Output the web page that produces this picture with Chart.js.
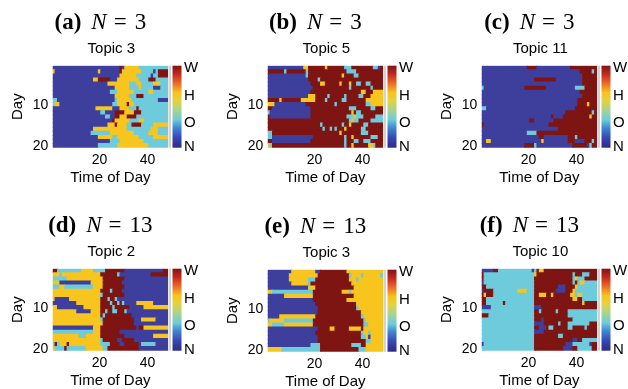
<!DOCTYPE html>
<html lang="en">
<head>
<meta charset="UTF-8">
<title>Topics by day and time of day</title>
<style>
  html, body { margin: 0; padding: 0; background: #fff; overflow: hidden; width: 628px; height: 389px; }
  canvas { position: absolute; }
</style>
</head>
<body>
<canvas id="pa" width="199" height="195" style="left:0px;top:0px"></canvas>
<canvas id="pb" width="199" height="195" style="left:214.6px;top:0px"></canvas>
<canvas id="pc" width="199" height="195" style="left:429px;top:0px"></canvas>
<canvas id="pd" width="199" height="195" style="left:0px;top:203.3px"></canvas>
<canvas id="pe" width="199" height="195" style="left:214.6px;top:203.6px"></canvas>
<canvas id="pf" width="199" height="195" style="left:429px;top:203.3px"></canvas>
<script src="https://cdn.jsdelivr.net/npm/chart.js"></script>
<script>
// 20 days x 48 half-hour slots, each row as runs: letter + run length
// N = nothing, O = other, H = home, W = work
const numDays = 20;
const numSlots = 48;
const xTicks = [20, 40];
const yTicks = [10, 20];
const levels = ['N', 'O', 'H', 'W'];
const levelColors = { N: '#3e3e9c', O: '#6ecbdc', H: '#f7c51d', W: '#7e1513' };

const panelTags = ['(a)', '(b)', '(c)', '(d)', '(e)', '(f)'];
const panelN = ['3', '3', '3', '13', '13', '13'];
const panelTopics = ['Topic 3', 'Topic 5', 'Topic 11', 'Topic 2', 'Topic 3', 'Topic 10'];

const rowsA = [
  "N28 W1 N1 H6 O12",
  "H1 N18 H1 N8 W1 H8 O5 N1 O1 W4",
  "N28 H7 O6 N1 O2 W4",
  "N17 H2 W5 N3 H9 O4 W3 O5",
  "N23 H9 O3 H2 O5 H3 O3",
  "N26 H6 O4 H1 O5 N3 O3",
  "N24 O3 H7 O6 H2 O6",
  "N26 H6 O3 W3 O10",
  "O2 N24 O1 H6 O11 N4",
  "O1 H2 N22 O2 H4 W1 H2 O14",
  "N18 H7 N3 H4 O3 W1 O12",
  "N20 O2 N4 W4 H4 W3 O11",
  "N22 O2 N2 W2 H3 W4 O13",
  "N25 W1 H6 O4 H2 O10",
  "N23 H3 W1 H4 O2 W4 O5 H6",
  "N17 H14 O10 H3 O4",
  "N16 O8 H10 O6 H4 O4",
  "N19 H6 O2 H9 O6 H6",
  "N24 O4 H10 O10",
  "N19 O8 H13 O8"
];

const rowsB = [
  "N15 H2 W7 H1 W7 O3 W9 O2 N1 W1",
  "W7 O1 W8 O1 W16 O4 W11",
  "N16 O1 W14 H1 W4 O2 W10",
  "N17 W4 O1 W26",
  "N18 W4 H2 W6 H1 W3 H1 W2 O2 W2 O2 W5",
  "N19 W15 O1 W8 O1 W4",
  "N18 W21 H2 W3 H4",
  "N17 H3 W5 O1 W6 O1 W5 O2 W3 H5",
  "W5 H1 W8 H6 W4 O1 W6 O2 W8 H7",
  "H3 N13 W12 O1 W12 O2 H5",
  "W2 N16 W16 O3 W6 O2 W3",
  "O1 N17 W17 H1 W1 O2 W9",
  "W1 N17 W15 O3 H1 O3 W5 O3",
  "W34 O1 H1 O2 W5 O5",
  "W22 O1 W8 O1 W2 H1 W5 O2 W6",
  "W23 O1 W2 O1 W1 O1 W3 H1 W6 O2 W7",
  "O2 W28 H1 W8 O3 W6",
  "O2 N17 W13 O1 W2 H1 W7 O3 W2",
  "W2 N16 W14 O1 W3 O2 W2 O3 W5",
  "H1 O1 W30 O1 W2 H1 W6 H2 O1 W3"
];

const rowsC = [
  "N19 W4 N14 W11",
  "N41 W5 O1 W1",
  "N42 W6",
  "N22 W9 N11 W6",
  "N42 W6",
  "O1 N17 W9 N12 O4 W5",
  "N41 W7",
  "N42 W6",
  "N40 W8",
  "N40 W4 H1 W3",
  "O2 N37 W9",
  "N35 W11 O1 W1",
  "N29 W1 N4 W11 H1 W2",
  "N20 W2 N8 W18",
  "W1 N27 W20",
  "N32 W16",
  "N19 O4 W25",
  "N24 W2 N10 W3 O1 W8",
  "N2 H2 N21 H1 N10 W3 N4 W3 O1 W1",
  "N18 W4 O1 N15 W6 N1 O1 W2"
];

const rowsD = [
  "W2 O10 H5 O5 W8 N16 W2",
  "H3 O1 H16 W7 O1 N13 W7",
  "O6 H15 W9 N18",
  "H3 N13 H5 W8 N19",
  "O3 H2 O12 H4 W9 N18",
  "H20 W4 O1 W4 N19",
  "H20 O1 W9 N18",
  "H1 N6 H13 W3 O1 W2 O1 N21",
  "N10 H10 W4 O1 W2 O1 W1 O1 N5 H7 N6",
  "H2 N11 H7 W5 O1 W6 N6 H10",
  "H10 N6 H4 W2 O1 W2 O2 W3 O1 N17",
  "H20 W1 O1 W11 N15",
  "H20 O1 W13 N3 H6 N5",
  "H21 W13 N14",
  "N17 H3 W15 N1 W2 H10",
  "O17 H3 W8 N20",
  "H11 O3 H6 W10 N12 H6",
  "H20 O1 W6 N2 W5 N14",
  "O1 W1 O1 H3 W1 H13 O4 W4 N2 W6 N1 O6 N5",
  "H1 O4 W1 O8 H7 O2 W13 N12"
];

const rowsE = [
  "N10 H10 N2 W11 H15",
  "N9 H12 W13 O1 H4 O1 H7 O1",
  "N9 H8 O3 W14 H3 O1 H10",
  "N10 H7 O1 W17 H13",
  "N17 H3 W16 H12",
  "H2 O17 W12 H3 O1 H13",
  "N7 H12 W17 H12",
  "N19 W14 H15",
  "N20 W17 H11",
  "N21 W16 O1 H10",
  "N21 W18 H9",
  "N5 H15 W19 O1 H8",
  "O1 H6 O12 W21 O1 H7",
  "H2 O5 H12 W21 O2 H6",
  "N21 W5 H2 W6 H5 W1 H8",
  "N20 W19 O1 H2 O1 H5",
  "N21 W18 O2 H1 N1 H5",
  "N21 W20 O2 H5",
  "N18 O4 W13 O4 W2 H7",
  "H6 O16 W16 O3 H7"
];

const rowsF = [
  "N5 W2 O14 N1 O1 W1 H2 W22",
  "W1 O21 H1 W15 O1 W3 O3 W3",
  "W1 O21 W16 O1 H1 O3 W5",
  "N1 O21 W16 O1 W1 O1 H2 O5",
  "W2 O20 W10 N3 W4 H1 O8",
  "N1 W4 O10 H4 O3 W9 N4 W3 H1 O9",
  "W1 H1 W3 O17 W2 H3 W2 H1 W7 H2 O1 H2 O6",
  "W2 O20 W16 H2 W2 O6",
  "W2 O7 W1 O12 W20 H1 W5",
  "N4 O18 N3 W23",
  "O22 W2 O1 W6 O1 W4 O12",
  "W3 O19 W14 O12",
  "O22 W3 N1 W12 O10",
  "O22 N4 W6 O1 W3 O9 W3",
  "O22 W2 N3 W1 O2 W6 O2 W5 O1 W4",
  "O22 N4 W22",
  "O22 W10 O2 W14",
  "O22 W16 N2 W2 O6",
  "N1 O21 W13 N3 O7 N1 W2",
  "O22 W12 N4 W2 O6 W2"
];

const allRows = [rowsA, rowsB, rowsC, rowsD, rowsE, rowsF];
const canvasIds = ['pa', 'pb', 'pc', 'pd', 'pe', 'pf'];

// turn run strings into floating bar segments
function f_segments(p_rows) {
  let v_segs = [];
  p_rows.forEach((row, i) => {
    let col = 1;
    row.trim().split(/\s+/).forEach(tok => {
      let lv = tok[0];
      let n = parseInt(tok.slice(1));
      let end = Math.min(col + n - 1, numSlots);
      if (col <= numSlots) v_segs.push({ x: [col - 0.5, end + 0.5], y: i + 1, lv: lv });
      col += n;
    });
    if (col <= numSlots && v_segs.length) {
      v_segs[v_segs.length - 1].x[1] = numSlots + 0.5;
    }
  });
  return v_segs;
}

const decor = {
  id: 'decor',
  afterDraw(chart, args, o) {
    const c = chart.ctx, a = chart.chartArea;
    const mid = (a.left + a.right) / 2;
    c.save();
    c.fillStyle = '#000';
    // panel title: bold tag, italic N, = value
    const parts = [
      { t: o.tag, f: 'bold 23px "Liberation Serif"', g: 10 },
      { t: 'N', f: 'italic 23px "Liberation Serif"', g: 7 },
      { t: '=', f: '23px "Liberation Serif"', g: 8 },
      { t: o.n, f: '23px "Liberation Serif"', g: 0 }
    ];
    let w = 0;
    parts.forEach(p => { c.font = p.f; p.w = c.measureText(p.t).width; w += p.w + p.g; });
    let x = mid - 10 - w / 2;
    c.textAlign = 'left';
    c.textBaseline = 'alphabetic';
    parts.forEach(p => { c.font = p.f; c.fillText(p.t, x, a.top - 37); x += p.w + p.g; });

    c.font = '15px "Liberation Sans"';
    c.textAlign = 'center';
    c.textBaseline = 'middle';
    c.fillText(o.topic, mid + 1, a.top - 17);

    // colour bar
    c.fillStyle = '#d2d2d2';
    c.fillRect(a.right + 0.5, a.top, 2.5, a.bottom - a.top);
    const g = c.createLinearGradient(0, a.bottom, 0, a.top);
    g.addColorStop(0, '#2c2c86');
    g.addColorStop(0.12, '#3846b4');
    g.addColorStop(0.24, '#3f86d0');
    g.addColorStop(0.34, '#6ecbdc');
    g.addColorStop(0.46, '#a9d48e');
    g.addColorStop(0.57, '#e2d241');
    g.addColorStop(0.67, '#f7c51d');
    g.addColorStop(0.8, '#e8602a');
    g.addColorStop(0.9, '#c0281c');
    g.addColorStop(1, '#7e1513');
    c.fillStyle = g;
    c.fillRect(a.right + 4.5, a.top, 9, a.bottom - a.top);

    c.fillStyle = '#000';
    c.font = '15px "Liberation Sans"';
    c.textAlign = 'left';
    c.textBaseline = 'middle';
    const h = a.bottom - a.top;
    levels.forEach((lv, k) => {
      let y = a.bottom - k / 3 * h + 2.5;
      if (k === 0) y = a.bottom - 1;
      c.fillText(lv, a.right + 16, y);
    });
    c.restore();
  }
};

const tickFont = { family: 'Liberation Sans', size: 14 };
const titleFont = { family: 'Liberation Sans', size: 15 };

canvasIds.forEach((id, p) => {
  const segs = f_segments(allRows[p]);
  new Chart(document.getElementById(id), {
    type: 'bar',
    data: {
      datasets: [{
        data: segs,
        backgroundColor: segs.map(s => levelColors[s.lv]),
        borderWidth: 0,
        barPercentage: 1,
        categoryPercentage: 1,
        inflateAmount: 0.5
      }]
    },
    options: {
      indexAxis: 'y',
      responsive: false,
      animation: false,
      events: [],
      layout: { padding: { top: 65.7, right: 31, left: 0, bottom: 0 } },
      scales: {
        x: {
          type: 'linear', min: 0.5, max: numSlots + 0.5, offset: false, grace: 0,
          grid: { display: false, drawTicks: false }, border: { display: false },
          afterBuildTicks: s => { s.ticks = xTicks.map(v => ({ value: v })); },
          afterFit: s => { s.height = 47.3; },
          ticks: { color: '#000', font: tickFont, padding: 4, maxRotation: 0 },
          title: { display: true, text: 'Time of Day', color: '#000', font: titleFont, padding: { top: 0, bottom: 8 } }
        },
        y: {
          type: 'linear', min: 0.5, max: numDays + 0.5, reverse: true, offset: false, grace: 0,
          grid: { display: false, drawTicks: false }, border: { display: false },
          afterBuildTicks: s => { s.ticks = yTicks.map(v => ({ value: v })); },
          afterFit: s => { s.width = 52.7; },
          ticks: { color: '#000', font: tickFont, padding: 4.5 },
          title: { display: true, text: 'Day', color: '#000', font: titleFont, padding: { top: 9, bottom: 0 } }
        }
      },
      plugins: {
        legend: { display: false },
        tooltip: { enabled: false },
        decor: { tag: panelTags[p], n: panelN[p], topic: panelTopics[p] }
      }
    },
    plugins: [decor]
  });
});
</script>
</body>
</html>
